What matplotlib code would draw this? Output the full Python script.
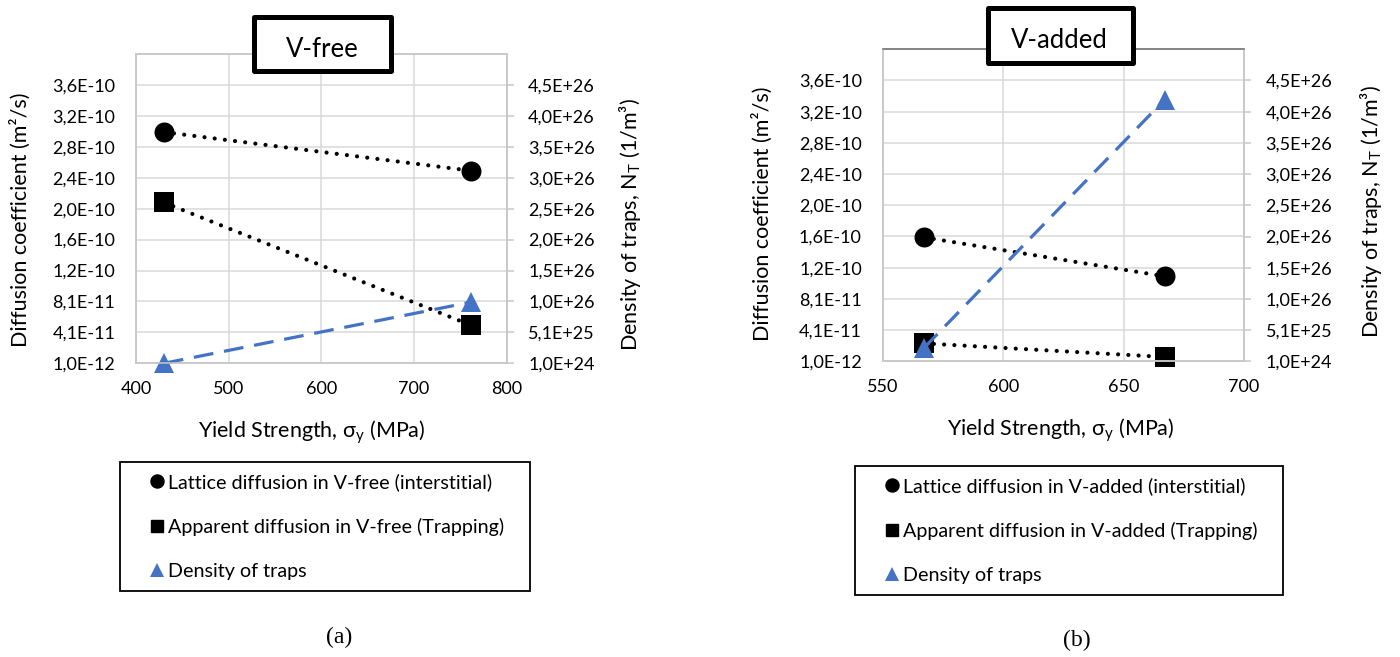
import matplotlib
matplotlib.use("Agg")
import matplotlib.pyplot as plt
from matplotlib.lines import Line2D
from matplotlib.patches import Rectangle

plt.rcParams["font.family"] = ["Lato", "DejaVu Sans"]
plt.rcParams["mathtext.fontset"] = "custom"
plt.rcParams["mathtext.rm"] = "Lato"

W, H = 1400, 657
BLUE = "#4472C4"

# ---- data -------------------------------------------------------------
# V-free steel
vfree_sigma_y = [430, 762]
vfree_lattice = [3.0e-10, 2.5e-10]
vfree_apparent = [2.09e-10, 5.0e-11]
vfree_traps = [1.0e24, 1.0e26]

# V-added steel
vadded_sigma_y = [567, 667]
vadded_lattice = [1.6e-10, 1.1e-10]
vadded_apparent = [2.4e-11, 6.5e-12]
vadded_traps = [2.2e25, 4.2e26]

# axis ticks
diff_ticks = [1.0e-12, 4.1e-11, 8.1e-11, 1.21e-10, 1.61e-10, 2.01e-10,
              2.41e-10, 2.81e-10, 3.21e-10, 3.61e-10]
diff_lim = [1.0e-12, 4.01e-10]
trap_ticks = [1.0e24, 5.1e25, 1.01e26, 1.51e26, 2.01e26, 2.51e26,
              3.01e26, 3.51e26, 4.01e26, 4.51e26]
trap_lim = [1.0e24, 5.01e26]
vfree_xticks = [400, 500, 600, 700, 800]
vadded_xticks = [550, 600, 650, 700]

vfree_names = ["Lattice diffusion in V-free (interstitial)",
               "Apparent diffusion in V-free (Trapping)",
               "Density of traps"]
vadded_names = ["Lattice diffusion in V-added (interstitial)",
                "Apparent diffusion in V-added (Trapping)",
                "Density of traps"]


def sci_comma(v):
    return f"{v:.1E}".replace(".", ",")


def fx(px):
    return px / W


def fy(py):
    return 1 - py / H


fig = plt.figure(figsize=(W / 100, H / 100), dpi=100)


def panel(frame, xs, xticks, lattice, apparent, traps, names, title,
          title_box, title_xy, legend_box, caption, caption_xy, lab_pos,
          top_spine="#C8C8C8"):
    x0, y0, x1, y1 = frame  # pixel box of the plotting area
    ax = fig.add_axes([fx(x0), fy(y1), fx(x1) - fx(x0), fy(y0) - fy(y1)])
    ax2 = ax.twinx()

    ax.set_xlim(xticks[0], xticks[-1])
    ax.set_xticks(xticks)
    ax.set_ylim(*diff_lim)
    ax.set_yticks(diff_ticks)
    ax.set_yticklabels([sci_comma(v) for v in diff_ticks])
    ax2.set_ylim(*trap_lim)
    ax2.set_yticks(trap_ticks)
    ax2.set_yticklabels([sci_comma(v) for v in trap_ticks])

    ax.grid(True, color="#D9D9D9", lw=1.1)
    ax.set_axisbelow(True)
    for a in (ax, ax2):
        for side, sp in a.spines.items():
            sp.set_color("#C8C8C8")
            sp.set_linewidth(1.1)
        a.spines["top"].set_color(top_spine)
    ax.tick_params(axis="y", length=0, pad=15, labelsize=13, colors="black")
    ax.tick_params(axis="x", length=0, pad=12.5, labelsize=13, colors="black")
    ax2.tick_params(axis="y", length=5, width=1.1, color="#C8C8C8", pad=10.5,
                    labelsize=13, labelcolor="black")

    dot = dict(color="black", lw=3.0, dashes=(0.01, 2.45),
               dash_capstyle="round", markeredgewidth=0, clip_on=False)
    ax.plot(xs, lattice, marker="o", ms=14.4, **dot)
    ax.plot(xs, apparent, marker="s", ms=14.4, **dot)
    ax2.plot(xs, traps, color=BLUE, lw=2.3, dashes=(6.2, 3.4), marker="^",
             ms=14.4, markeredgewidth=0, clip_on=False)

    fs_lab = 15.5
    ax.set_ylabel("Diffusion coefficient (m²/s)", fontsize=fs_lab)
    ax2.set_ylabel(r"Density of traps, N$_\mathregular{T}$ (1/m³)",
                   fontsize=fs_lab)
    ax.set_xlabel(r"Yield Strength, σ$_\mathregular{y}$ (MPa)", fontsize=fs_lab)
    (ylx, yly), (y2x, y2y), (xlx, xly) = lab_pos
    for axis, (px, py) in ((ax.yaxis, (ylx, yly)), (ax2.yaxis, (y2x, y2y)),
                           (ax.xaxis, (xlx, xly))):
        axis.set_label_coords((px - x0) / (x1 - x0), (y1 - py) / (y1 - y0))
        axis.label.set_verticalalignment("center")
        axis.label.set_horizontalalignment("center")
        axis.label.set_rotation_mode("anchor")

    # title box
    bx0, by0, bx1, by1 = title_box
    fig.patches.append(Rectangle((fx(bx0), fy(by1)), fx(bx1) - fx(bx0),
                                 fy(by0) - fy(by1), transform=fig.transFigure,
                                 facecolor="white", edgecolor="black",
                                 lw=3.6, joinstyle="round", zorder=5))
    fig.text(fx(title_xy[0]), fy(title_xy[1]), title, fontsize=18.5,
             ha="center", va="baseline", zorder=6)

    # legend
    handles = [Line2D([], [], ls="none", marker="o", ms=9.4, color="black"),
               Line2D([], [], ls="none", marker="s", ms=9.1, color="black"),
               Line2D([], [], ls="none", marker="^", ms=9.4, color=BLUE,
                      markeredgewidth=0)]
    lx0, ly0, lx1, ly1 = legend_box
    leg = fig.legend(handles, names, loc="upper left",
                     bbox_to_anchor=(fx(lx0), fy(ly1), fx(lx1) - fx(lx0),
                                     fy(ly0) - fy(ly1)),
                     mode="expand", fancybox=False, edgecolor="black",
                     framealpha=1, fontsize=14.2, borderpad=0.58,
                     labelspacing=1.36, handlelength=2.58,
                     handletextpad=-0.72, borderaxespad=0, numpoints=1)
    leg.get_frame().set_linewidth(1.3)

    fig.text(fx(caption_xy[0]), fy(caption_xy[1]), caption,
             family="Liberation Serif", fontsize=17, ha="center", va="center")
    return ax, ax2


panel((136, 54, 506.7, 363.3), vfree_sigma_y, vfree_xticks,
      vfree_lattice, vfree_apparent, vfree_traps, vfree_names,
      "V-free", (253.5, 17.5, 390.8, 70.5), (322, 57),
      (120, 461.7, 530, 590.7), "(a)", (339, 637),
      ((20.5, 220), (630, 225), (311.7, 431.7)))

panel((882.7, 49.3, 1244, 361.3), vadded_sigma_y, vadded_xticks,
      vadded_lattice, vadded_apparent, vadded_traps, vadded_names,
      "V-added", (987.5, 8.5, 1132.5, 63.2), (1059.2, 48.3),
      (855, 466, 1283.3, 596.7), "(b)", (1077, 640),
      ((762, 214), (1371.5, 211.5), (1060.5, 430)), top_spine="#808080")

fig.savefig("out.png", dpi=100)
